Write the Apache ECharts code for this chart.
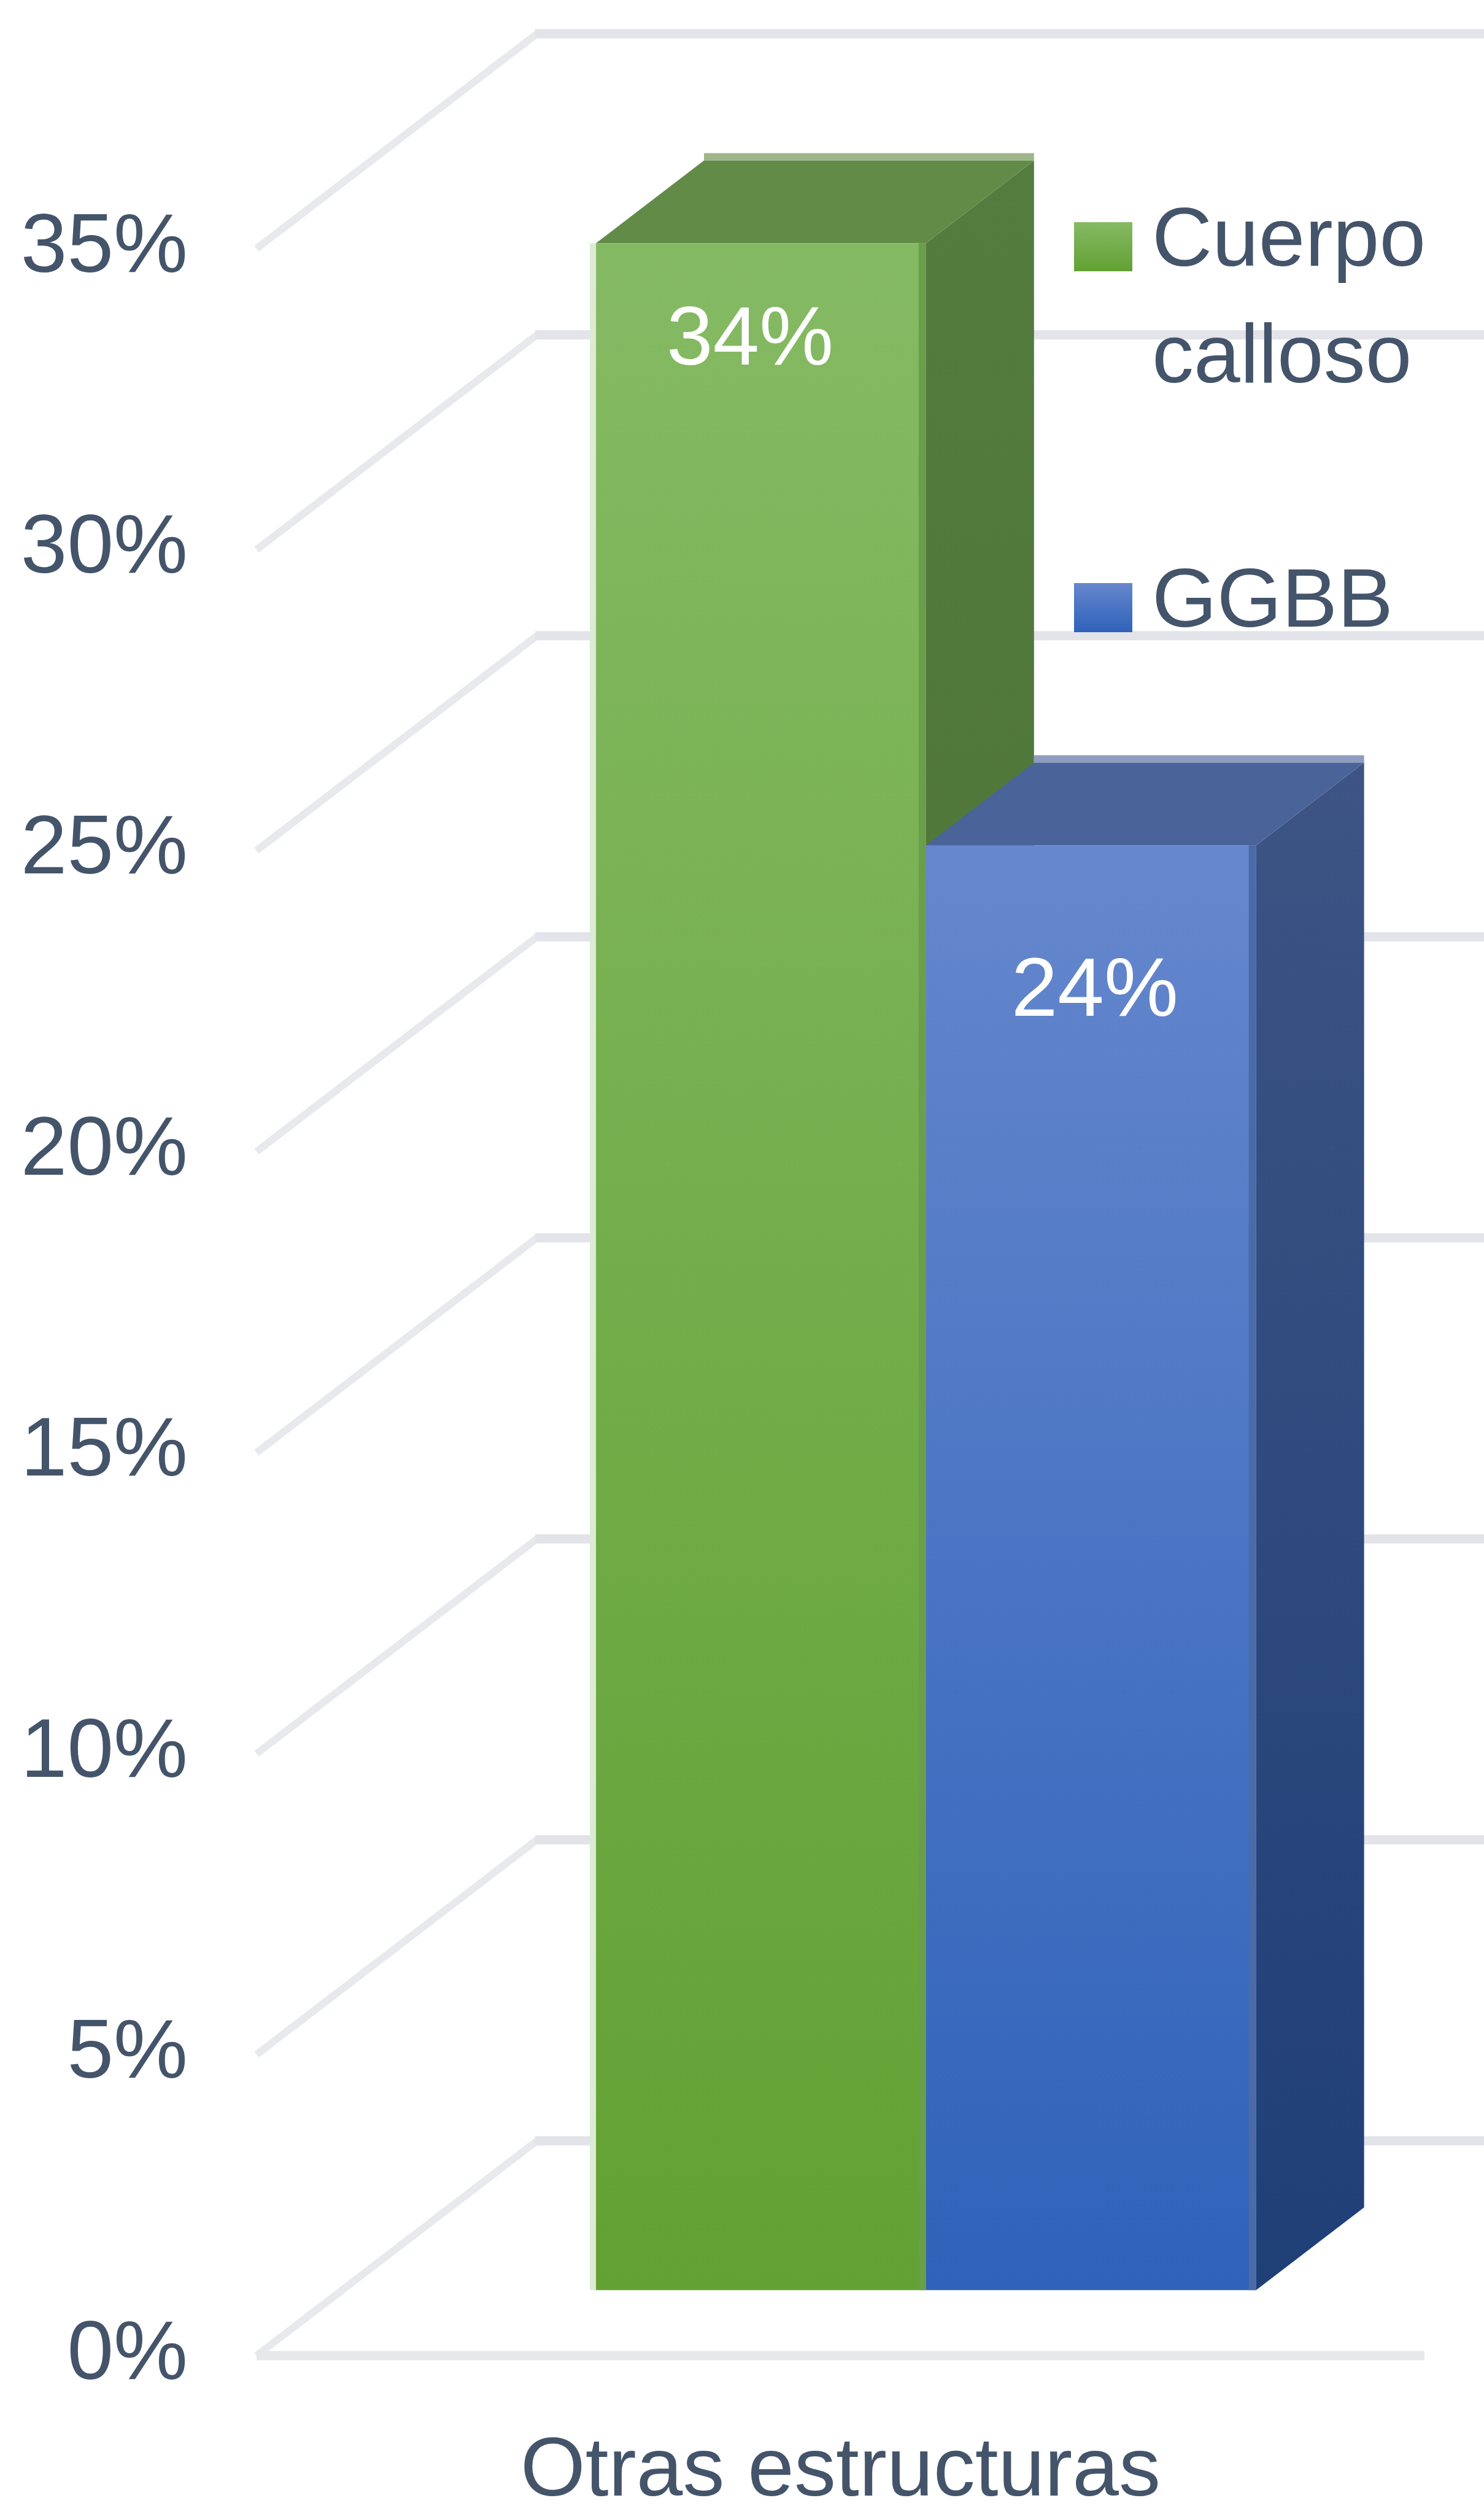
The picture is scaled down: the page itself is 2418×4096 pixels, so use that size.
<!DOCTYPE html>
<html><head><meta charset="utf-8">
<script src="https://cdn.jsdelivr.net/npm/echarts@6/dist/echarts.min.js"></script>
<style>html,body{margin:0;padding:0;background:#fff}#c{width:2418px;height:4096px}</style>
</head><body><div id="c"></div>
<script>
// ---- data ----
const categories = ['Otras estructuras'];
const seriesNames = ['Cuerpo calloso', 'GGBB'];
const cuerpoCallosoValues = [34];
const ggbbValues = [24];
const yTickValues = [0, 5, 10, 15, 20, 25, 30, 35];

// ---- styles / layout ----
const FONT_FAMILY = '"Liberation Sans", Arial, sans-serif';
const TEXT_COLOR = '#44546A';
const FS = 136;
const DEPTH = [457, -350];          // wall depth vector (px)
const BAR_DEPTH = [0.305, 0.69];    // bar front/back as fraction of wall depth
const BAR_WIDTH_FRAC = 0.2826;      // bar width as fraction of category band
const LABEL_OFFSET = [160, 240];    // label distance below bar front top (px)
const LABEL_SHIFT = [-18, 6];       // horizontal label nudge (px)
const palettes = [
  {front: ['#85BA64', '#62A133'], top: '#628B48', side: ['#557C3F', '#466F2F'], edge: '#6A9E4B', rim: '#9FB68C', halo: '#DDEBD4'},
  {front: ['#6587CD', '#2F62BA'], top: '#4A6399', side: ['#3D5484', '#1F3F77'], edge: '#4A6AA8', rim: '#8E9DBF', halo: '#B8C8E8'}
];
const LEGEND = {iconX: 1750, textX: 1877, iconTops: [362, 950], iconW: 95, iconH: 80, lineH: 190};

function grad(c) {
  return new echarts.graphic.LinearGradient(0, 0, 0, 1, [{offset: 0, color: c[0]}, {offset: 1, color: c[1]}]);
}

function gridRenderer(params, api) {
  const v = api.value(1);
  const cs = params.coordSys;
  const y = api.coord([0, v])[1];
  const xl = cs.x, xr = cs.x + cs.width;
  const children = [
    {type: 'line', shape: {x1: xl, y1: y, x2: xl + DEPTH[0], y2: y + DEPTH[1]},
     style: {stroke: '#E8E9ED', lineWidth: 12}},
    {type: 'line', shape: {x1: xl + DEPTH[0] - 3, y1: y + DEPTH[1], x2: xr + DEPTH[0], y2: y + DEPTH[1]},
     style: {stroke: '#E2E4E9', lineWidth: 15}}
  ];
  if (v === 0) {
    children.push({type: 'line', shape: {x1: xl, y1: y, x2: xr, y2: y},
      style: {stroke: '#E6E8EC', lineWidth: 15}});
  }
  return {type: 'group', children};
}

function barRenderer(si) {
  return function (params, api) {
    const cat = api.value(0), v = api.value(1);
    const base = api.coord([cat, 0]);
    const topP = api.coord([cat, v]);
    const band = api.size([1, 0])[0];
    const w = band * BAR_WIDTH_FRAC;
    const x0 = base[0] + (si - 1) * w, x1 = x0 + w;
    const fx = DEPTH[0] * BAR_DEPTH[0], fy = DEPTH[1] * BAR_DEPTH[0];
    const bx = DEPTH[0] * BAR_DEPTH[1], by = DEPTH[1] * BAR_DEPTH[1];
    const yb = base[1], yt = topP[1];
    const P = palettes[si];
    const front = [[x0 + fx, yt + fy], [x1 + fx, yt + fy], [x1 + fx, yb + fy], [x0 + fx, yb + fy]];
    const top = [[x0 + fx, yt + fy], [x0 + bx, yt + by], [x1 + bx, yt + by], [x1 + fx, yt + fy]];
    const side = [[x1 + fx, yt + fy], [x1 + bx, yt + by], [x1 + bx, yb + by], [x1 + fx, yb + fy]];
    const children = [
      {type: 'line', shape: {x1: x0 + bx, y1: yt + by - 6, x2: x1 + bx, y2: yt + by - 6},
       style: {stroke: P.rim, lineWidth: 12}},
      {type: 'polygon', shape: {points: side}, style: {fill: grad(P.side)}},
      {type: 'polygon', shape: {points: top}, style: {fill: P.top}},
      {type: 'polygon', shape: {points: front}, style: {fill: grad(P.front)}},
      {type: 'line', shape: {x1: x1 + fx - 6, y1: yt + fy, x2: x1 + fx - 6, y2: yb + fy},
       style: {stroke: P.edge, lineWidth: 12}},
      {type: 'text', style: {
        text: v + '%', x: (x0 + x1) / 2 + fx + LABEL_SHIFT[si], y: yt + fy + LABEL_OFFSET[si],
        align: 'center', verticalAlign: 'middle', fill: '#FFFFFF',
        font: FS + 'px ' + FONT_FAMILY}}
    ];
    if (si === 0) {
      children.unshift({type: 'line', shape: {x1: x0 + fx - 5, y1: yt + fy, x2: x0 + fx - 5, y2: yb + fy},
        style: {stroke: P.halo, lineWidth: 10}});
    }
    return {type: 'group', children};
  };
}

const chart = echarts.init(document.getElementById('c'), null, {renderer: 'canvas'});
const valueSets = [cuerpoCallosoValues, ggbbValues];

const legendGraphics = [];
seriesNames.forEach((name, i) => {
  const t = LEGEND.iconTops[i];
  legendGraphics.push({type: 'rect', z: 100, shape: {x: LEGEND.iconX, y: t, width: LEGEND.iconW, height: LEGEND.iconH},
    style: {fill: grad(palettes[i].front)}});
  legendGraphics.push({type: 'text', z: 100, x: LEGEND.textX, y: t + LEGEND.iconH / 2 - 7 - LEGEND.lineH / 2,
    style: {text: name, width: 540, overflow: 'break', lineHeight: LEGEND.lineH,
      verticalAlign: 'top', align: 'left', fill: TEXT_COLOR, font: FS + 'px ' + FONT_FAMILY}});
});

chart.setOption({
  animation: false,
  backgroundColor: '#FFFFFF',
  grid: {left: 418, right: 97, top: 405, bottom: 255, containLabel: false},
  xAxis: {
    type: 'category', data: categories,
    axisLine: {show: false}, axisTick: {show: false}, splitLine: {show: false},
    axisLabel: {margin: 122, fontSize: FS, color: TEXT_COLOR, fontFamily: FONT_FAMILY}
  },
  yAxis: {
    type: 'value', min: 0, max: 35, interval: 5,
    axisLine: {show: false}, axisTick: {show: false}, splitLine: {show: false},
    axisLabel: {margin: 112, fontSize: FS, color: TEXT_COLOR, fontFamily: FONT_FAMILY, formatter: '{value}%'}
  },
  graphic: {elements: legendGraphics},
  series: [
    {type: 'custom', name: 'grid', z: 1, clip: false, silent: true,
     data: yTickValues.map(v => [0, v]), renderItem: gridRenderer},
    ...seriesNames.map((name, si) => ({
      type: 'custom', name, z: 2 + si, clip: false,
      data: valueSets[si].map((v, ci) => [ci, v]),
      renderItem: barRenderer(si)
    }))
  ]
});
</script></body></html>
